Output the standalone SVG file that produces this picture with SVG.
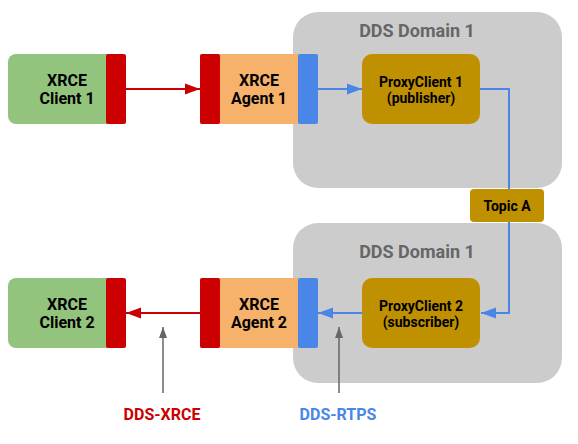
<svg xmlns="http://www.w3.org/2000/svg" width="578" height="444" viewBox="0 0 578 444">
<defs>
<style>
text{font-family:Roboto,"Liberation Sans",sans-serif;font-weight:bold;text-anchor:middle}
.node{font-size:16px;fill:#000}
.pc{font-size:14px;fill:#000}
.dom{font-size:18px;fill:#666666}
.red{stroke:#cc0000;stroke-width:2;fill:none}
.blue{stroke:#4a86e8;stroke-width:2;fill:none}
.grey{stroke:#666666;stroke-width:1.5;fill:none}
</style>
<marker id="ar" markerUnits="userSpaceOnUse" markerWidth="16" markerHeight="12" refX="15" refY="6" orient="auto"><path d="M0,0.5 L15,6 L0,11.5 Z" fill="#cc0000"/></marker>
<marker id="ab" markerUnits="userSpaceOnUse" markerWidth="16" markerHeight="12" refX="15" refY="6" orient="auto"><path d="M0,0.5 L15,6 L0,11.5 Z" fill="#4a86e8"/></marker>
<marker id="ag" markerUnits="userSpaceOnUse" markerWidth="12" markerHeight="10" refX="11" refY="4" orient="auto"><path d="M0,0 L11,4 L0,8 Z" fill="#666666"/></marker>
</defs>
<rect width="578" height="444" fill="#ffffff"/>
<g id="domain1">
<rect x="293" y="12" width="269" height="176" rx="25" fill="#cccccc"/>
<text class="dom" x="417" y="37">DDS Domain 1</text>
</g>
<g id="domain2">
<rect x="293" y="223" width="269" height="160" rx="25" fill="#cccccc"/>
<text class="dom" x="417" y="258">DDS Domain 1</text>
</g>
<g id="connectors">
<line class="red" x1="126" y1="89" x2="200" y2="89" marker-end="url(#ar)"/>
<line class="blue" x1="318" y1="89" x2="362" y2="89" marker-end="url(#ab)"/>
<polyline class="blue" points="480,89 509,89 509,313 481,313" marker-end="url(#ab)"/>
<line class="blue" x1="362" y1="313" x2="318" y2="313" marker-end="url(#ab)"/>
<line class="red" x1="200" y1="313" x2="126" y2="313" marker-end="url(#ar)"/>
<line class="grey" x1="163" y1="393" x2="163" y2="327" marker-end="url(#ag)"/>
<line class="grey" x1="339" y1="393" x2="339" y2="327" marker-end="url(#ag)"/>
</g>
<g id="client1">
<rect x="8" y="54" width="118" height="70" rx="8" fill="#93c47d"/>
<rect x="106" y="54" width="20" height="70" rx="2" fill="#cc0000"/>
<text class="node" x="67" y="86">XRCE</text>
<text class="node" x="67" y="104">Client 1</text>
</g>
<g id="agent1">
<rect x="200" y="54" width="118" height="70" rx="2" fill="#f6b26b"/>
<rect x="200" y="54" width="20" height="70" rx="2" fill="#cc0000"/>
<rect x="298" y="54" width="20" height="70" rx="2" fill="#4a86e8"/>
<text class="node" x="259" y="86">XRCE</text>
<text class="node" x="259" y="104">Agent 1</text>
</g>
<g id="proxy1">
<rect x="362" y="54" width="118" height="70" rx="10" fill="#bf9000"/>
<text class="pc" x="421" y="87">ProxyClient 1</text>
<text class="pc" x="421" y="103">(publisher)</text>
</g>
<g id="topicA">
<rect x="470" y="189" width="74" height="33" rx="4" fill="#bf9000"/>
<text class="pc" x="507" y="211">Topic A</text>
</g>
<g id="client2">
<rect x="8" y="278" width="118" height="70" rx="8" fill="#93c47d"/>
<rect x="106" y="278" width="20" height="70" rx="2" fill="#cc0000"/>
<text class="node" x="67" y="310">XRCE</text>
<text class="node" x="67" y="328">Client 2</text>
</g>
<g id="agent2">
<rect x="200" y="278" width="118" height="70" rx="2" fill="#f6b26b"/>
<rect x="200" y="278" width="20" height="70" rx="2" fill="#cc0000"/>
<rect x="298" y="278" width="20" height="70" rx="2" fill="#4a86e8"/>
<text class="node" x="259" y="310">XRCE</text>
<text class="node" x="259" y="328">Agent 2</text>
</g>
<g id="proxy2">
<rect x="362" y="278" width="118" height="70" rx="10" fill="#bf9000"/>
<text class="pc" x="421" y="311">ProxyClient 2</text>
<text class="pc" x="421" y="327">(subscriber)</text>
</g>
<g id="labels">
<text x="162" y="420" font-size="16" fill="#cc0000">DDS-XRCE</text>
<text x="338" y="420" font-size="16" fill="#4a86e8">DDS-RTPS</text>
</g>
</svg>
